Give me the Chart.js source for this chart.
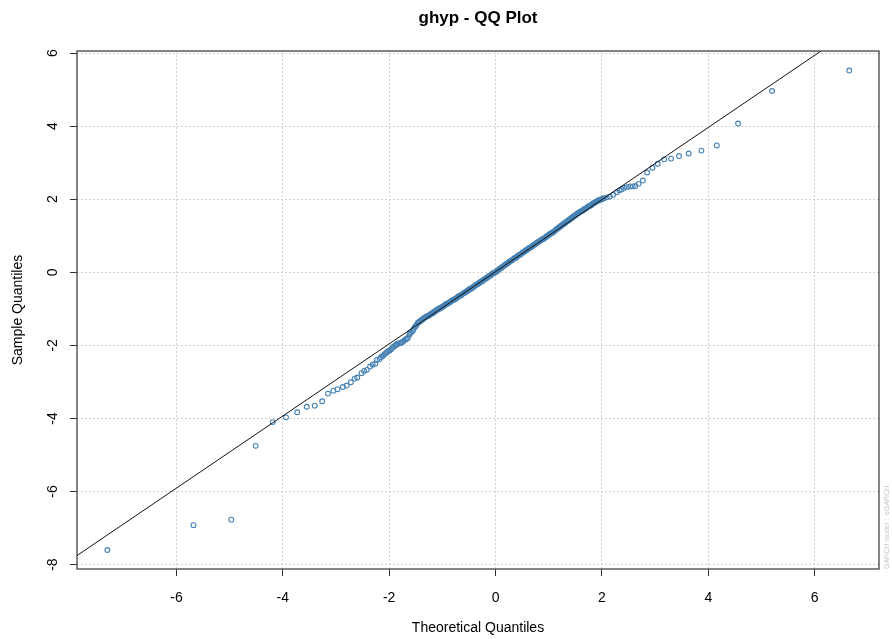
<!DOCTYPE html>
<html>
<head>
<meta charset="utf-8">
<title>ghyp - QQ Plot</title>
<script src="https://cdn.jsdelivr.net/npm/chart.js@4.4.1/dist/chart.umd.min.js"></script>
<style>
  html, body { margin: 0; padding: 0; background: #fff; }
  canvas { display: block; }
</style>
</head>
<body>
<canvas id="qqChart" width="892" height="639"></canvas>
<script>
// theoretical (x) vs sample (y) quantiles of the standardized residuals
// lower tail
const lowerTailX = [
  -7.30, -5.68, -4.97, -4.51, -4.19, -3.94, -3.73, -3.55, -3.40, -3.26,
  -3.15, -3.05, -2.97, -2.87, -2.80, -2.72, -2.65, -2.60, -2.52, -2.47,
  -2.42, -2.36, -2.31, -2.26, -2.23, -2.18, -2.15, -2.12, -2.10, -2.07,
  -2.04, -2.02, -1.99, -1.97, -1.94, -1.92, -1.89, -1.87, -1.85, -1.82,
  -1.79, -1.77, -1.74, -1.72, -1.69, -1.67, -1.65, -1.62, -1.61, -1.59
];
const lowerTailY = [
  -7.60, -6.92, -6.77, -4.75, -4.10, -3.97, -3.83, -3.68, -3.65, -3.53,
  -3.32, -3.24, -3.20, -3.14, -3.10, -3.01, -2.91, -2.88, -2.76, -2.70,
  -2.67, -2.58, -2.53, -2.50, -2.40, -2.37, -2.32, -2.29, -2.26, -2.22,
  -2.18, -2.16, -2.14, -2.11, -2.07, -2.04, -2.01, -1.99, -1.96, -1.95,
  -1.94, -1.92, -1.90, -1.87, -1.84, -1.82, -1.80, -1.71, -1.67, -1.64
];

// dense body of the distribution
const centerX = [
  -1.56, -1.54, -1.52, -1.50, -1.48, -1.46, -1.44, -1.42, -1.40, -1.38,
  -1.36, -1.34, -1.32, -1.30, -1.28, -1.26, -1.24, -1.22, -1.20, -1.18,
  -1.16, -1.14, -1.12, -1.10, -1.08, -1.06, -1.04, -1.02, -1.00, -0.98,
  -0.96, -0.94, -0.92, -0.90, -0.88, -0.86, -0.84, -0.82, -0.80, -0.78,
  -0.76, -0.74, -0.72, -0.70, -0.68, -0.66, -0.64, -0.62, -0.60, -0.58,
  -0.56, -0.54, -0.52, -0.50, -0.48, -0.46, -0.44, -0.42, -0.40, -0.38,
  -0.36, -0.34, -0.32, -0.30, -0.28, -0.26, -0.24, -0.22, -0.20, -0.18,
  -0.16, -0.14, -0.12, -0.10, -0.08, -0.06, -0.04, -0.02, 0.00, 0.02,
  0.04, 0.06, 0.08, 0.10, 0.12, 0.14, 0.16, 0.18, 0.20, 0.22,
  0.24, 0.26, 0.28, 0.30, 0.32, 0.34, 0.36, 0.38, 0.40, 0.42,
  0.44, 0.46, 0.48, 0.50, 0.52, 0.54, 0.56, 0.58, 0.60, 0.62,
  0.64, 0.66, 0.68, 0.70, 0.72, 0.74, 0.76, 0.78, 0.80, 0.82,
  0.84, 0.86, 0.88, 0.90, 0.92, 0.94, 0.96, 0.98, 1.00, 1.02,
  1.04, 1.06, 1.08, 1.10, 1.12, 1.14, 1.16, 1.18, 1.20, 1.22,
  1.24, 1.26, 1.28, 1.30, 1.32, 1.34, 1.36, 1.38, 1.40, 1.42,
  1.44, 1.46, 1.48, 1.50, 1.52, 1.54, 1.56, 1.58, 1.60, 1.62,
  1.64, 1.66, 1.68, 1.70, 1.72, 1.74, 1.76, 1.78, 1.80, 1.82,
  1.84, 1.86, 1.88, 1.90, 1.92, 1.94, 1.96, 1.98, 2.00, 2.02,
  2.04
];
const centerY = [
  -1.61, -1.55, -1.50, -1.47, -1.43, -1.38, -1.36, -1.34, -1.31, -1.30,
  -1.27, -1.24, -1.24, -1.21, -1.20, -1.19, -1.17, -1.14, -1.13, -1.12,
  -1.08, -1.08, -1.05, -1.02, -1.02, -1.00, -0.97, -0.97, -0.94, -0.93,
  -0.91, -0.88, -0.86, -0.86, -0.83, -0.82, -0.80, -0.77, -0.76, -0.75,
  -0.72, -0.72, -0.69, -0.66, -0.64, -0.64, -0.62, -0.59, -0.57, -0.56,
  -0.53, -0.52, -0.50, -0.47, -0.45, -0.45, -0.43, -0.40, -0.38, -0.36,
  -0.33, -0.33, -0.31, -0.28, -0.26, -0.25, -0.23, -0.20, -0.18, -0.17,
  -0.15, -0.12, -0.10, -0.09, -0.07, -0.04, -0.02, -0.01, 0.00, 0.03,
  0.05, 0.07, 0.10, 0.11, 0.14, 0.16, 0.18, 0.20, 0.23, 0.24,
  0.26, 0.29, 0.31, 0.32, 0.34, 0.37, 0.39, 0.40, 0.42, 0.45,
  0.47, 0.48, 0.50, 0.53, 0.55, 0.56, 0.59, 0.61, 0.62, 0.65,
  0.67, 0.68, 0.70, 0.73, 0.75, 0.76, 0.79, 0.81, 0.82, 0.85,
  0.86, 0.89, 0.90, 0.92, 0.93, 0.96, 0.98, 1.00, 1.02, 1.05,
  1.06, 1.08, 1.09, 1.12, 1.14, 1.17, 1.19, 1.21, 1.23, 1.26,
  1.28, 1.30, 1.32, 1.35, 1.36, 1.39, 1.41, 1.43, 1.45, 1.48,
  1.49, 1.52, 1.54, 1.56, 1.58, 1.61, 1.62, 1.65, 1.66, 1.68,
  1.69, 1.72, 1.73, 1.75, 1.77, 1.80, 1.81, 1.82, 1.84, 1.87,
  1.89, 1.90, 1.92, 1.94, 1.95, 1.97, 1.98, 1.99, 2.00, 2.02,
  2.03
];

// upper tail
const upperTailX = [
  2.09, 2.15, 2.21, 2.28, 2.33, 2.37, 2.42, 2.47, 2.53, 2.58,
  2.63, 2.69, 2.77, 2.85, 2.95, 3.05, 3.17, 3.30, 3.45, 3.63,
  3.87, 4.16, 4.56, 5.20, 6.65
];
const upperTailY = [
  2.05, 2.07, 2.12, 2.19, 2.24, 2.27, 2.31, 2.33, 2.35, 2.35,
  2.36, 2.42, 2.51, 2.73, 2.86, 2.97, 3.09, 3.11, 3.18, 3.25,
  3.33, 3.47, 4.07, 4.96, 5.52
];

// reference line end points (qqline)
const qqLineX = [-7.87, 7.21];
const qqLineY = [-7.752, 7.131];

const plotTitle = 'ghyp - QQ Plot';
const modelNote = 'GARCH model :  eGARCH';

const FONT = "'Liberation Sans', Arial, Helvetica, sans-serif";
Chart.defaults.font.family = FONT;
Chart.defaults.color = '#000';

// main title over the plot region, plot box and side note
const boxPlugin = {
  id: 'plotBox',
  afterDraw(chart) {
    const { ctx, chartArea: a } = chart;
    ctx.save();
    ctx.strokeStyle = '#444';
    ctx.lineWidth = 1.3;
    ctx.strokeRect(a.left, a.top, a.right - a.left, a.bottom - a.top);

    ctx.font = 'bold 17px ' + FONT;
    ctx.fillStyle = '#000';
    ctx.textAlign = 'center';
    ctx.textBaseline = 'middle';
    ctx.fillText(plotTitle, (a.left + a.right) / 2, 18);

    ctx.translate(a.right + 8, a.bottom);
    ctx.rotate(-Math.PI / 2);
    ctx.font = '7px ' + FONT;
    ctx.fillStyle = '#c8c8c8';
    ctx.textAlign = 'left';
    ctx.fillText(modelNote, 0, 0);
    ctx.restore();
  }
};

const allX = lowerTailX.concat(centerX, upperTailX);
const allY = lowerTailY.concat(centerY, upperTailY);
const points = allX.map((x, i) => ({ x: x, y: allY[i] }));
const linePts = qqLineX.map((x, i) => ({ x: x, y: qqLineY[i] }));

const gridCommon = {
  color: '#d3d3d3',
  lineWidth: 1,
  tickLength: 7,
  tickColor: '#333',
  tickWidth: 1,
  tickBorderDash: []
};

const ctx = document.getElementById('qqChart').getContext('2d');
const qqChart = new Chart(ctx, {
  type: 'scatter',
  data: {
    datasets: [
      {
        label: 'qqline',
        data: linePts,
        showLine: true,
        borderColor: '#111',
        borderWidth: 1,
        pointRadius: 0,
        tension: 0
      },
      {
        label: 'Sample',
        data: points,
        pointStyle: 'circle',
        pointRadius: 2.4,
        borderWidth: 1.1,
        borderColor: '#4682b4',
        backgroundColor: 'rgba(0,0,0,0)'
      }
    ]
  },
  options: {
    responsive: false,
    animation: false,
    layout: { padding: { left: 0, right: 13, top: 51, bottom: 0 } },
    plugins: {
      legend: { display: false },
      tooltip: { enabled: false },
      title: { display: false }
    },
    scales: {
      x: {
        type: 'linear',
        position: 'bottom',
        min: -7.87,
        max: 7.21,
        afterFit: (scale) => { scale.height = 70; },
        ticks: { stepSize: 2, includeBounds: false, padding: 14, color: '#000', font: { size: 14 } },
        grid: gridCommon,
        border: { display: false, dash: [2, 2] },
        title: {
          display: true,
          text: 'Theoretical Quantiles',
          color: '#000',
          font: { size: 14 },
          padding: { top: 0, bottom: 2 }
        }
      },
      y: {
        type: 'linear',
        position: 'left',
        min: -8.12,
        max: 6.055,
        afterFit: (scale) => { scale.width = 77; },
        ticks: {
          stepSize: 2,
          includeBounds: false,
          minRotation: 90,
          maxRotation: 90,
          crossAlign: 'center',
          padding: 11,
          color: '#000',
          font: { size: 14 }
        },
        grid: gridCommon,
        border: { display: false, dash: [2, 2] },
        title: {
          display: true,
          text: 'Sample Quantiles',
          color: '#000',
          font: { size: 14 },
          padding: { top: 10, bottom: 0 }
        }
      }
    }
  },
  plugins: [boxPlugin]
});
</script>
</body>
</html>
